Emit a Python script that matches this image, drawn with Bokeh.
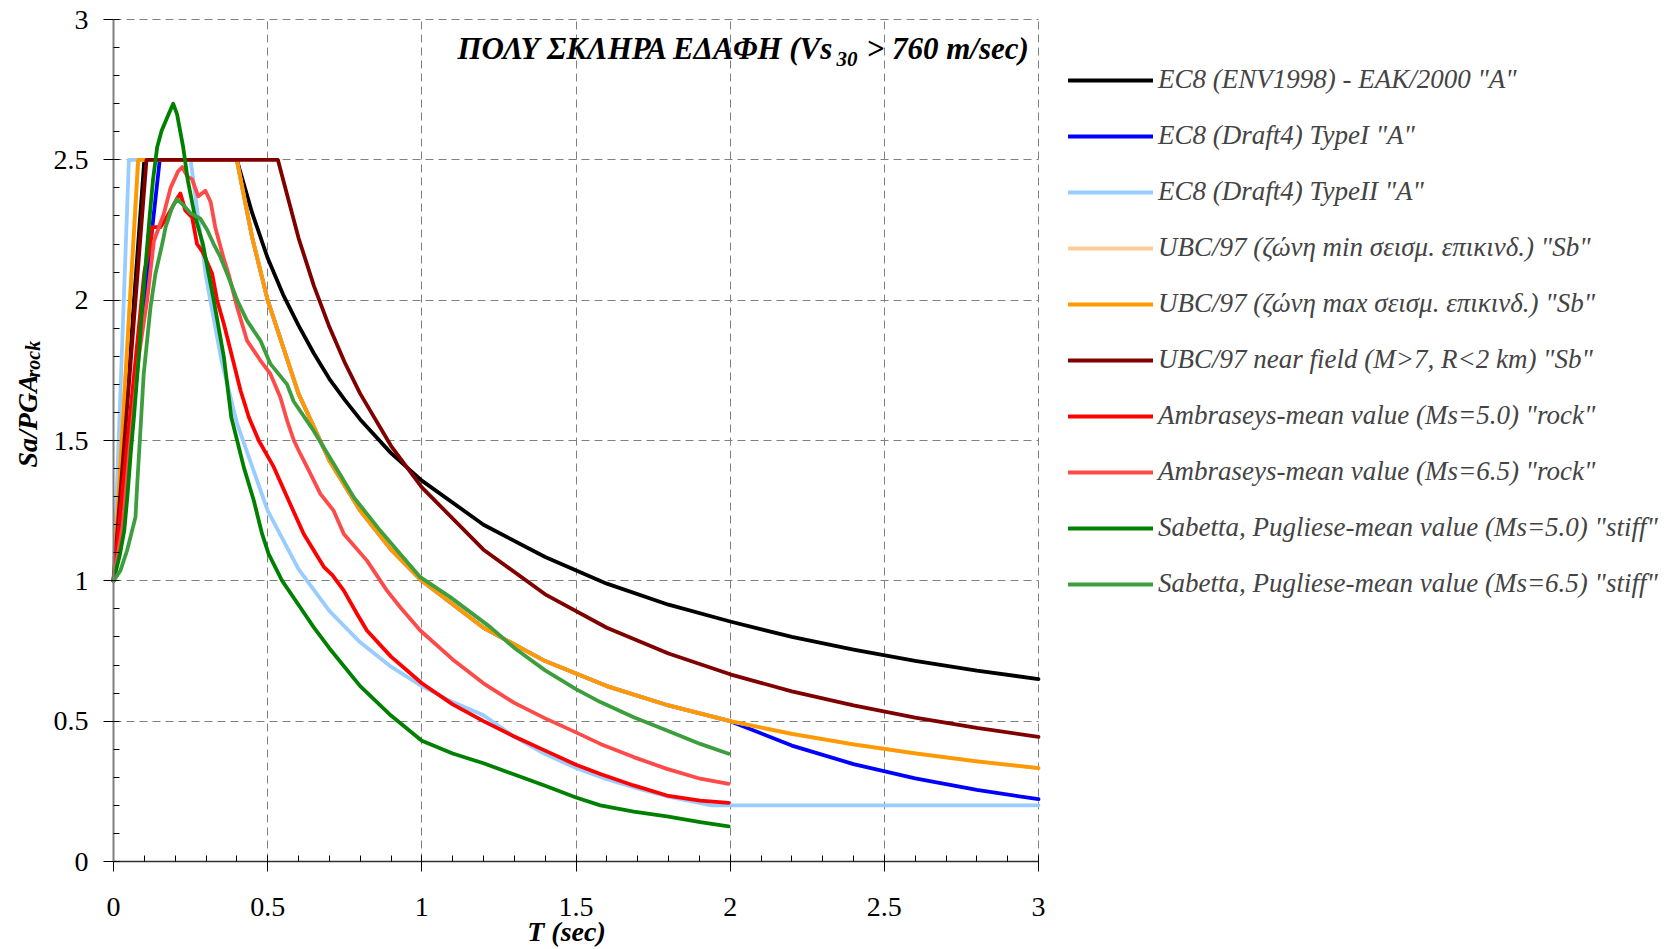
from math import pi
from bokeh.plotting import figure
from bokeh.models import Range1d, FixedTicker, NumeralTickFormatter, Label, Legend, LegendItem
from bokeh.embed import file_html
from bokeh.resources import INLINE

# ---------------- data ----------------
T_ec8 = [0, 0.1, 0.4, 0.45, 0.5, 0.55, 0.6, 0.65, 0.7, 0.75, 0.8, 0.9, 1.0, 1.2, 1.4, 1.6, 1.8, 2.0, 2.2, 2.4, 2.6, 2.8, 3.0]
S_ec8 = [1.0, 2.5, 2.5, 2.31, 2.15, 2.02, 1.91, 1.81, 1.72, 1.645, 1.575, 1.455, 1.357, 1.20, 1.085, 0.99, 0.915, 0.855, 0.80, 0.755, 0.715, 0.68, 0.65]

T_t1 = [0, 0.15, 0.4, 0.45, 0.5, 0.6, 0.7, 0.8, 0.9, 1.0, 1.2, 1.4, 1.6, 1.8, 2.0, 2.2, 2.4, 2.6, 2.8, 3.0]
S_t1 = [1.0, 2.5, 2.5, 2.222, 2.0, 1.667, 1.429, 1.25, 1.111, 1.0, 0.833, 0.714, 0.625, 0.556, 0.5, 0.413, 0.347, 0.296, 0.255, 0.222]

T_t2 = [0, 0.05, 0.25, 0.3, 0.35, 0.4, 0.5, 0.6, 0.7, 0.8, 0.9, 1.0, 1.1, 1.2, 1.3, 1.4, 1.5, 1.6, 1.7, 1.8, 1.94, 3.0]
S_t2 = [1.0, 2.5, 2.5, 2.083, 1.786, 1.563, 1.25, 1.042, 0.893, 0.781, 0.694, 0.625, 0.568, 0.521, 0.444, 0.383, 0.333, 0.293, 0.26, 0.231, 0.2, 0.2]

T_ubc = [0, 0.08, 0.4, 0.45, 0.5, 0.6, 0.7, 0.8, 0.9, 1.0, 1.2, 1.4, 1.6, 1.8, 2.0, 2.2, 2.4, 2.6, 2.8, 3.0]
S_ubc_min = [1.0, 2.5, 2.5, 2.222, 2.0, 1.667, 1.429, 1.25, 1.111, 1.0, 0.833, 0.714, 0.625, 0.556, 0.5, 0.455, 0.417, 0.385, 0.357, 0.333]
S_ubc_max = [1.0, 2.5, 2.5, 2.222, 2.0, 1.667, 1.429, 1.25, 1.111, 1.0, 0.833, 0.714, 0.625, 0.556, 0.5, 0.455, 0.417, 0.385, 0.357, 0.333]

T_nf = [0, 0.107, 0.533, 0.6, 0.65, 0.7, 0.75, 0.8, 0.9, 1.0, 1.2, 1.4, 1.6, 1.8, 2.0, 2.2, 2.4, 2.6, 2.8, 3.0]
S_nf = [1.0, 2.5, 2.5, 2.222, 2.051, 1.905, 1.778, 1.667, 1.481, 1.333, 1.111, 0.952, 0.833, 0.741, 0.667, 0.606, 0.556, 0.513, 0.476, 0.444]

T_amb5 = [0, 0.1, 0.12, 0.125, 0.152, 0.17, 0.19, 0.205, 0.217, 0.233, 0.255, 0.271, 0.29, 0.32, 0.336, 0.358, 0.385,
          0.412, 0.439, 0.471, 0.52, 0.568, 0.617, 0.682, 0.71, 0.747, 0.79, 0.822, 0.9, 1.0, 1.1, 1.2, 1.3, 1.4, 1.5,
          1.579, 1.687, 1.795, 1.903, 1.995]
S_amb5 = [1.0, 2.1, 2.2, 2.26, 2.26, 2.29, 2.33, 2.36, 2.38, 2.32, 2.295, 2.2, 2.17, 2.094, 2.0, 1.915, 1.797,
          1.678, 1.583, 1.5, 1.405, 1.286, 1.167, 1.05, 1.02, 0.965, 0.882, 0.823, 0.73, 0.635, 0.56, 0.5, 0.445, 0.395, 0.345,
          0.312, 0.271, 0.235, 0.217, 0.209]

T_amb65 = [0, 0.03, 0.055, 0.082, 0.109, 0.131, 0.163, 0.185, 0.21, 0.223, 0.24, 0.255, 0.275, 0.298, 0.315, 0.33,
           0.357, 0.374, 0.401, 0.433, 0.4765, 0.509, 0.541, 0.563, 0.585, 0.606, 0.628, 0.671, 0.714, 0.747, 0.822,
           0.887, 0.93, 0.995, 1.1, 1.2, 1.3, 1.4, 1.5, 1.579, 1.687, 1.795, 1.903, 1.995]
S_amb65 = [1.0, 1.2, 1.5, 1.8, 2.0, 2.21, 2.307, 2.4, 2.46, 2.474, 2.44, 2.43, 2.37, 2.39, 2.35, 2.26,
           2.15, 2.09, 1.975, 1.856, 1.785, 1.737, 1.654, 1.571, 1.5, 1.452, 1.405, 1.31, 1.25, 1.167, 1.072,
           0.965, 0.906, 0.823, 0.72, 0.635, 0.565, 0.51, 0.46, 0.419, 0.372, 0.33, 0.295, 0.277]

T_sab5 = [0, 0.02, 0.035, 0.045, 0.057, 0.066, 0.082, 0.093, 0.109, 0.118, 0.128, 0.1416, 0.156, 0.179, 0.1935,
          0.206, 0.226, 0.241, 0.2625, 0.29, 0.325, 0.358, 0.382, 0.401, 0.4225, 0.455, 0.482, 0.503, 0.547, 0.606,
          0.649, 0.7, 0.8, 0.9, 1.0, 1.1, 1.2, 1.3, 1.4, 1.5, 1.579, 1.687, 1.795, 1.903, 1.995]
S_sab5 = [1.0, 1.09, 1.18, 1.3, 1.47, 1.58, 1.8, 1.98, 2.19, 2.307, 2.427, 2.545, 2.604, 2.663, 2.70,
          2.663, 2.545, 2.427, 2.307, 2.2, 2.0, 1.797, 1.583, 1.5, 1.405, 1.286, 1.167, 1.096, 1.0, 0.905,
          0.835, 0.76, 0.625, 0.52, 0.43, 0.385, 0.35, 0.31, 0.27, 0.228, 0.2, 0.178, 0.161, 0.14, 0.125]

T_sab65 = [0, 0.0227, 0.044, 0.0713, 0.077, 0.0875, 0.098, 0.109, 0.12, 0.136, 0.158, 0.169, 0.19, 0.206, 0.228,
           0.25, 0.282, 0.304, 0.325, 0.347, 0.3685, 0.401, 0.433, 0.4765, 0.509, 0.563, 0.584, 0.649, 0.714, 0.779,
           0.865, 0.93, 0.995, 1.092, 1.222, 1.3, 1.4, 1.5, 1.579, 1.687, 1.795, 1.903, 1.995]
S_sab65 = [1.0, 1.037, 1.108, 1.227, 1.345, 1.54, 1.737, 1.856, 1.975, 2.094, 2.2, 2.26, 2.33, 2.36, 2.337,
           2.31, 2.29, 2.25, 2.2, 2.153, 2.094, 2.0, 1.927, 1.856, 1.773, 1.70, 1.64, 1.535, 1.417, 1.298,
           1.179, 1.096, 1.013, 0.942, 0.835, 0.761, 0.681, 0.614, 0.568, 0.514, 0.467, 0.419, 0.384]

series_labels = [
    'EC8 (ENV1998) - EAK/2000 "A"',
    'EC8 (Draft4) TypeI "A"',
    'EC8 (Draft4) TypeII "A"',
    'UBC/97 (ζώνη min σεισμ. επικινδ.) "Sb"',
    'UBC/97 (ζώνη max σεισμ. επικινδ.) "Sb"',
    'UBC/97 near field (M>7, R<2 km) "Sb"',
    'Ambraseys-mean value (Ms=5.0) "rock"',
    'Ambraseys-mean value (Ms=6.5) "rock"',
    'Sabetta, Pugliese-mean value (Ms=5.0) "stiff"',
    'Sabetta, Pugliese-mean value (Ms=6.5) "stiff"',
]
series_colors = ["#000000", "#0000FF", "#99CCFF", "#FFCC99", "#FF9900", "#800000",
                 "#FF0000", "#FF4A4A", "#008000", "#3D9E3D"]

x_major = [0, 0.5, 1, 1.5, 2, 2.5, 3]
y_major = [0, 0.5, 1, 1.5, 2, 2.5, 3]

# ---------------- layout geometry (pixels) ----------------
W, H = 1675, 949
AX_L, AX_R, AX_T, AX_B = 113, 1038, 19, 861      # where the 0..3 axes box sits
SX = (AX_R - AX_L) / 3.0
SY = (AX_B - AX_T) / 3.0


def dx(px):
    return (px - AX_L) / SX


def dy(py):
    return (AX_B - py) / SY


FONT = "Liberation Serif"

p = figure(width=W, height=H, x_range=Range1d(dx(0), dx(W)), y_range=Range1d(dy(H), dy(0)),
           output_backend="svg", toolbar_location=None, min_border=0)
p.outline_line_color = None
p.background_fill_color = "white"
p.border_fill_color = "white"

minor = [round(i * 0.1, 1) for i in range(31)]
p.xaxis.ticker = FixedTicker(ticks=x_major, minor_ticks=minor)
p.yaxis.ticker = FixedTicker(ticks=y_major, minor_ticks=minor)
p.axis.formatter = NumeralTickFormatter(format="0.[0]")
p.axis.major_label_text_font = FONT
p.axis.major_label_text_font_size = "28px"
p.axis.major_label_text_color = "black"
p.axis.major_tick_line_color = "black"
p.axis.minor_tick_line_color = "black"
p.axis.fixed_location = 0
p.axis.bounds = (0, 3)

p.xaxis.axis_line_color = "#303030"
p.xaxis.axis_line_width = 1.5
p.xaxis.major_tick_in = 6
p.xaxis.major_tick_out = 10
p.xaxis.minor_tick_in = 6
p.xaxis.minor_tick_out = 0
p.xaxis.major_label_standoff = 26

p.yaxis.axis_line_color = "#808080"
p.yaxis.axis_line_width = 2
p.yaxis.major_tick_in = 0
p.yaxis.major_tick_out = 10
p.yaxis.minor_tick_in = 6
p.yaxis.minor_tick_out = 0
p.yaxis.major_label_standoff = 15

for g in (p.xgrid, p.ygrid):
    g.ticker = FixedTicker(ticks=x_major)
    g.bounds = (0, 3)
    g.cross_bounds = (0, 3)
    g.grid_line_color = "#808080"
    g.grid_line_dash = "8 5"
    g.grid_line_width = 1

series = [(T_ec8, S_ec8), (T_t1, S_t1), (T_t2, S_t2), (T_ubc, S_ubc_min), (T_ubc, S_ubc_max),
          (T_nf, S_nf), (T_amb5, S_amb5), (T_amb65, S_amb65), (T_sab5, S_sab5), (T_sab65, S_sab65)]
items = []
for (tx, sy), lab, col in zip(series, series_labels, series_colors):
    r = p.line(tx, sy, line_color=col, line_width=3.8, line_join="round", line_cap="round")
    items.append(LegendItem(label=lab, renderers=[r]))

legend = Legend(items=items, location=(1068, H - 599), orientation="vertical",
                label_text_font=FONT, label_text_font_style="italic", label_text_font_size="27px",
                glyph_width=85, glyph_height=30, label_height=30, label_standoff=5,
                spacing=25, padding=0, margin=0, border_line_color=None, background_fill_alpha=0)
p.add_layout(legend)

TS = dict(text_baseline="alphabetic", text_font=FONT, text_font_style="bold italic", text_color="black")
# title inside plot (with subscript)
p.add_layout(Label(x=dx(457), y=dy(48), text="ΠΟΛΥ ΣΚΛΗΡΑ ΕΔΑΦΗ (Vs", text_align="left", text_font_size="31px", **TS))
p.add_layout(Label(x=dx(836), y=dy(58), text="30", text_align="left", text_font_size="21px", **TS))
p.add_layout(Label(x=dx(866), y=dy(48), text="> 760 m/sec)", text_align="left", text_font_size="31px", **TS))

# axis titles
p.add_layout(Label(x=dx(566), y=dy(931), text="T (sec)", text_align="center", text_font_size="28px", **TS))
p.add_layout(Label(x=dx(27), y=dy(467), text="Sa/PGA", angle=pi / 2, text_align="left", text_font_size="28px", **TS))
p.add_layout(Label(x=dx(32), y=dy(377), text="rock", angle=pi / 2, text_align="left", text_font_size="20px", **TS))

open("out.html", "w").write(file_html(p, INLINE))
